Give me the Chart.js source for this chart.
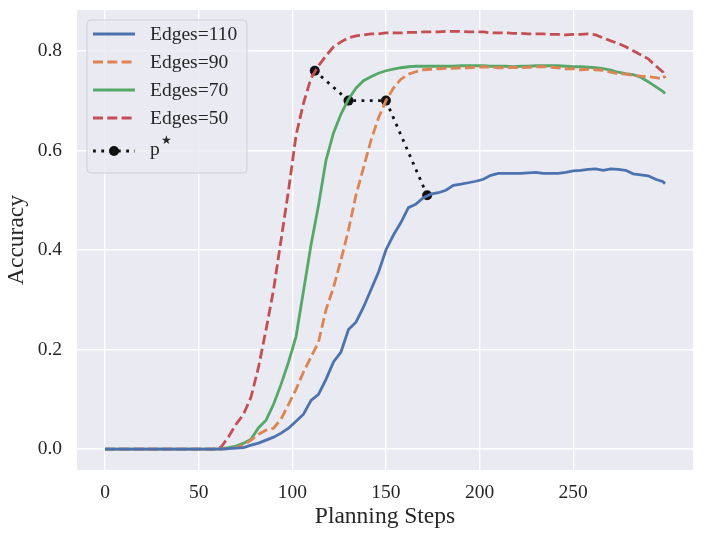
<!DOCTYPE html>
<html>
<head>
<meta charset="utf-8">
<script src="https://cdn.jsdelivr.net/npm/chart.js@4.4.1/dist/chart.umd.min.js"></script>
<style>
  html, body { margin: 0; padding: 0; background: #ffffff; }
  #wrap { width: 705px; height: 540px; position: relative; }
</style>
</head>
<body>
<div id="wrap"><canvas id="accChart"></canvas></div>
<script>
const steps = [0, 10, 20, 30, 40, 50, 54, 58, 62, 66, 70, 74, 78, 82, 86, 90, 94, 98,
  102, 106, 110, 114, 118, 122, 126, 130, 134, 138, 142, 146, 150, 154, 158, 162, 166, 170,
  174, 178, 182, 186, 190, 194, 198, 202, 206, 210, 214, 218, 222, 226, 230, 234, 238, 242,
  246, 250, 254, 258, 262, 266, 270, 274, 278, 282, 286, 290, 294, 298, 299];

const edges110 = [0, 0, 0, 0, 0, 0, 0, 0,
  0, 0.001, 0.002, 0.003, 0.008, 0.012, 0.018, 0.024, 0.032, 0.042,
  0.056, 0.07, 0.098, 0.11, 0.14, 0.175, 0.195, 0.24, 0.255, 0.285,
  0.32, 0.355, 0.40, 0.43, 0.455, 0.485, 0.492, 0.505, 0.512, 0.515,
  0.52, 0.53, 0.532, 0.535, 0.538, 0.542, 0.55, 0.554, 0.554, 0.554,
  0.554, 0.555, 0.556, 0.554, 0.554, 0.554, 0.556, 0.559, 0.56, 0.562,
  0.563, 0.56, 0.563, 0.562, 0.56, 0.553, 0.551, 0.549, 0.542, 0.537,
  0.533];

const edges90 = [0, 0, 0, 0, 0, 0, 0, 0,
  0, 0.001, 0.003, 0.008, 0.018, 0.03, 0.038, 0.042, 0.06, 0.09,
  0.12, 0.155, 0.185, 0.215, 0.28, 0.325, 0.38, 0.44, 0.51, 0.565,
  0.62, 0.665, 0.70, 0.725, 0.743, 0.753, 0.758, 0.762, 0.763, 0.764,
  0.765, 0.765, 0.766, 0.766, 0.767, 0.768, 0.767, 0.766, 0.766, 0.767,
  0.766, 0.767, 0.768, 0.768, 0.767, 0.766, 0.764, 0.764, 0.762, 0.763,
  0.762, 0.761, 0.757, 0.754, 0.753, 0.751, 0.749, 0.748, 0.746, 0.744,
  0.75];

const edges70 = [0, 0, 0, 0, 0, 0, 0, 0,
  0.001, 0.003, 0.006, 0.012, 0.02, 0.043, 0.058, 0.09, 0.13, 0.175,
  0.226, 0.318, 0.41, 0.49, 0.58, 0.635, 0.673, 0.703, 0.725, 0.74,
  0.748, 0.755, 0.76, 0.763, 0.766, 0.768, 0.769, 0.769, 0.769, 0.769,
  0.769, 0.769, 0.77, 0.77, 0.77, 0.77, 0.769, 0.769, 0.769, 0.768,
  0.769, 0.769, 0.77, 0.77, 0.77, 0.77, 0.769, 0.768, 0.768, 0.767,
  0.766, 0.764, 0.761, 0.757, 0.754, 0.752, 0.747, 0.738, 0.728, 0.718,
  0.714];

const edges50 = [0, 0, 0, 0, 0, 0, 0, 0,
  0.004, 0.025, 0.05, 0.07, 0.105, 0.165, 0.24, 0.32, 0.42, 0.52,
  0.63, 0.695, 0.745, 0.77, 0.79, 0.808, 0.818, 0.826, 0.83, 0.832,
  0.834, 0.834, 0.836, 0.836, 0.836, 0.837, 0.837, 0.838, 0.838, 0.838,
  0.839, 0.839, 0.839, 0.838, 0.838, 0.838, 0.836, 0.836, 0.836, 0.835,
  0.835, 0.834, 0.834, 0.834, 0.833, 0.833, 0.832, 0.833, 0.833, 0.834,
  0.832, 0.826, 0.82, 0.815, 0.808, 0.8, 0.792, 0.784, 0.77, 0.757,
  0.745];

// p* points (best step per graph size)
const pStarSteps = [112, 130, 150, 172];
const pStarValues = [0.76, 0.70, 0.70, 0.51];

const seriesLabels = ["Edges=110", "Edges=90", "Edges=70", "Edges=50"];
const xTicks = [0, 50, 100, 150, 200, 250];
const yTicks = [0.0, 0.2, 0.4, 0.6, 0.8];

const serif = "'Liberation Serif', 'Times New Roman', serif";
Chart.defaults.font.family = serif;
Chart.defaults.color = "#262626";

function toPoints(xs, ys) {
  return xs.map((x, i) => ({ x: x, y: ys[i] }));
}

function lineSet(label, values, color, dash) {
  return {
    label: label,
    data: toPoints(steps, values),
    borderColor: color,
    backgroundColor: color,
    borderWidth: 2.8,
    borderDash: dash,
    pointRadius: 0,
    tension: 0,
    fill: false
  };
}

// grey seaborn background behind the plot area
const bgPlugin = {
  id: "bg",
  beforeDraw(chart) {
    const { ctx, chartArea: a } = chart;
    ctx.save();
    ctx.fillStyle = "#EAEAF2";
    ctx.fillRect(a.left, a.top, a.right - a.left, a.bottom - a.top);
    ctx.restore();
  }
};

// legend drawn inside the plot, upper left
const innerLegend = {
  id: "innerLegend",
  afterDatasetsDraw(chart) {
    const ctx = chart.ctx;
    const bx = 87, by = 20, bw = 160, bh = 153;
    ctx.save();
    ctx.beginPath();
    ctx.roundRect(bx, by, bw, bh, 4);
    ctx.fillStyle = "rgba(234,234,242,0.85)";
    ctx.fill();
    ctx.strokeStyle = "#CFCFD6";
    ctx.lineWidth = 1;
    ctx.stroke();

    const rows = [34, 62, 90, 118, 151];
    chart.data.datasets.forEach((ds, i) => {
      const y = rows[i];
      ctx.beginPath();
      ctx.setLineDash(ds.borderDash || []);
      ctx.strokeStyle = ds.borderColor;
      ctx.lineWidth = ds.borderWidth;
      ctx.moveTo(93, y);
      ctx.lineTo(135, y);
      ctx.stroke();
      ctx.setLineDash([]);
      if (ds.pointRadius > 0) {
        ctx.beginPath();
        ctx.arc(114, y, ds.pointRadius, 0, Math.PI * 2);
        ctx.fillStyle = ds.pointBackgroundColor;
        ctx.fill();
      }
      ctx.fillStyle = "#262626";
      ctx.font = "19.5px " + serif;
      ctx.textBaseline = "middle";
      ctx.textAlign = "left";
      if (i < seriesLabels.length) {
        ctx.fillText(ds.label, 150, y + 1);
      } else {
        ctx.fillText("p", 150, y - 1);
        ctx.font = "12px 'DejaVu Sans'";
        ctx.fillText("\u2605", 161, y - 10);
      }
    });
    ctx.restore();
  }
};

const ctx = document.getElementById("accChart").getContext("2d");

new Chart(ctx, {
  type: "line",
  data: {
    datasets: [
      lineSet(seriesLabels[0], edges110, "#4C72B0", []),
      lineSet(seriesLabels[1], edges90, "#DD8452", [10, 4.3]),
      lineSet(seriesLabels[2], edges70, "#55A868", []),
      lineSet(seriesLabels[3], edges50, "#C44E52", [10, 4.3]),
      {
        label: "p*",
        data: toPoints(pStarSteps, pStarValues),
        borderColor: "#111111",
        borderWidth: 2.8,
        borderDash: [2.8, 5.5],
        pointRadius: 5,
        pointBackgroundColor: "#111111",
        pointBorderWidth: 0,
        tension: 0,
        fill: false
      }
    ]
  },
  options: {
    responsive: true,
    maintainAspectRatio: false,
    animation: false,
    layout: { padding: { left: 0, top: 10, right: 12, bottom: 0 } },
    scales: {
      x: {
        type: "linear",
        min: -14.95,
        max: 313.95,
        afterBuildTicks: scale => { scale.ticks = xTicks.map(v => ({ value: v })); },
        afterFit: scale => {
          scale.height = 70;
          scale.paddingLeft = 0;
          scale.paddingRight = 0;
        },
        border: { display: false },
        grid: { color: "#ffffff", lineWidth: 1.4, drawTicks: false },
        ticks: { font: { size: 19.5 }, padding: 11, color: "#262626" },
        title: {
          display: true,
          text: "Planning Steps",
          font: { size: 23.5 },
          padding: { top: 0, bottom: 9 },
          color: "#262626"
        }
      },
      y: {
        min: -0.042,
        max: 0.882,
        afterBuildTicks: scale => { scale.ticks = yTicks.map(v => ({ value: v })); },
        afterFit: scale => {
          scale.width = 77;
          scale.paddingTop = 0;
          scale.paddingBottom = 0;
        },
        border: { display: false },
        grid: { color: "#ffffff", lineWidth: 1.4, drawTicks: false },
        ticks: {
          font: { size: 19.5 },
          padding: 15,
          color: "#262626",
          callback: v => Number(v).toFixed(1)
        },
        title: {
          display: true,
          text: "Accuracy",
          font: { size: 23.5 },
          padding: { top: 3, bottom: 0 },
          color: "#262626"
        }
      }
    },
    plugins: {
      legend: { display: false },
      tooltip: { enabled: false }
    }
  },
  plugins: [bgPlugin, innerLegend]
});
</script>
</body>
</html>
